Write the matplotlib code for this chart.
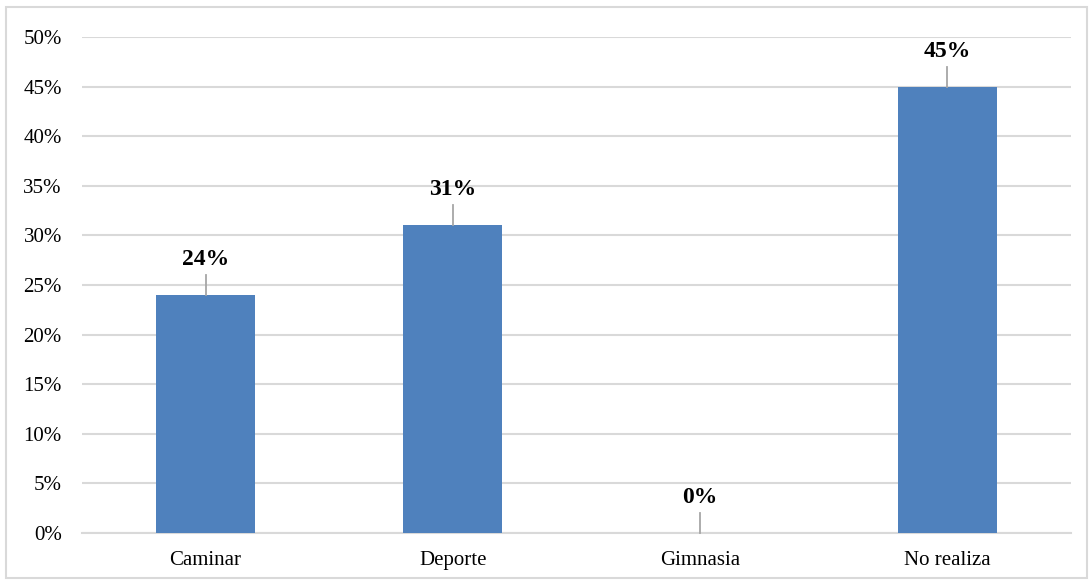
import matplotlib
matplotlib.use("Agg")
import matplotlib.pyplot as plt
from matplotlib.patches import Rectangle
from matplotlib.ticker import MultipleLocator, FuncFormatter

categories = ["Caminar", "Deporte", "Gimnasia", "No realiza"]
values = [24, 31, 0, 45]

plt.rcParams["font.family"] = ["Liberation Serif", "DejaVu Serif"]

W, H, DPI = 1092, 581, 100
fig = plt.figure(figsize=(W / DPI, H / DPI), dpi=DPI)
ax = fig.add_axes([82 / W, 1 - 533 / H, (1071 - 82) / W, (533 - 37) / H])

bar_color = "#4f81bd"
grid_color = "#d9d9d9"
x = range(len(categories))
ax.bar(x, values, width=0.4, color=bar_color, zorder=3)

ax.set_xlim(-0.5, len(categories) - 0.5)
ax.set_ylim(0, 50)
ax.yaxis.set_major_locator(MultipleLocator(5))
ax.yaxis.set_major_formatter(FuncFormatter(lambda v, _: f"{v:.0f}%"))
ax.set_xticks(list(x))
ax.set_xticklabels(categories)
ax.tick_params(axis="both", length=0, labelsize=15, colors="#000000")
ax.tick_params(axis="x", pad=13)
ax.tick_params(axis="y", pad=14.5)

ax.grid(axis="y", color=grid_color, linewidth=1.5, zorder=0)
for side in ("top", "right", "left"):
    ax.spines[side].set_visible(False)
ax.spines["bottom"].set_color(grid_color)
ax.spines["bottom"].set_linewidth(1.5)
ax.set_axisbelow(True)

# Value labels with short leader lines
px_per_pct = (533 - 37) / 50
for xi, v in zip(x, values):
    line_len = 20 / px_per_pct
    ax.plot([xi, xi], [v, v + line_len], color="#a6a6a6", linewidth=1.3,
            zorder=4, clip_on=False)
    ax.annotate(f"{v}%", xy=(xi, v), xytext=(0, 25), textcoords="offset pixels",
                ha="center", va="bottom", fontsize=17, fontweight="bold",
                color="#000000", annotation_clip=False)

# Outer chart border
fig.patches.append(Rectangle((6 / W, 1 - 578 / H), (1087 - 6) / W, (578 - 7) / H,
                             transform=fig.transFigure, fill=False,
                             edgecolor=grid_color, linewidth=1.5))

fig.savefig("out.png", dpi=DPI)
